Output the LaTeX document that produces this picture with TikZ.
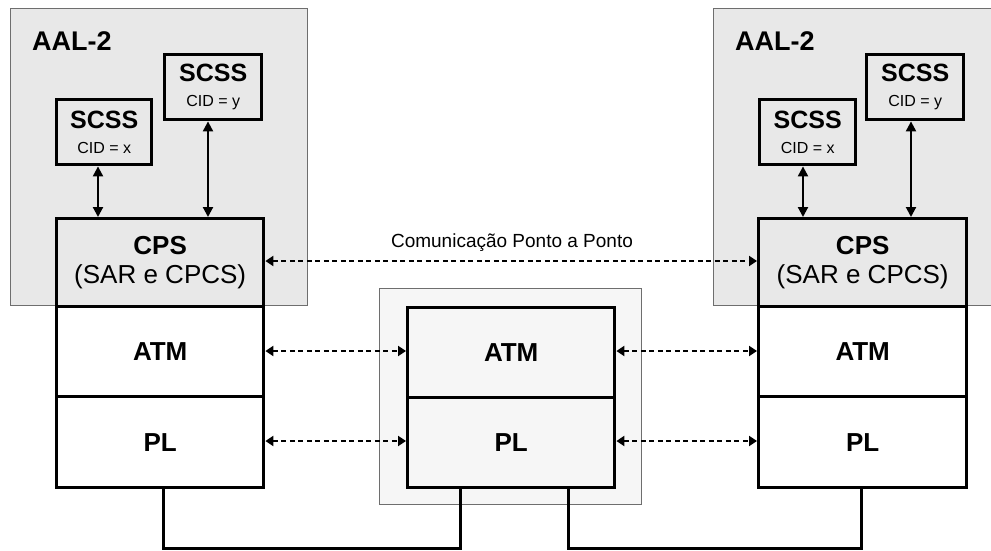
\documentclass[tikz,border=0pt]{standalone}
\usepackage{fontspec}
\setmainfont{Liberation Sans}
\usetikzlibrary{arrows.meta}
\definecolor{grayfill}{HTML}{E8E8E8}
\definecolor{midfill}{HTML}{F6F6F6}
\definecolor{grayedge}{HTML}{6E6E6E}
\tikzset{
  groupbox/.style={draw=grayedge, line width=1pt, fill=grayfill},
  midbox/.style={draw=grayedge, line width=1pt, fill=midfill},
  layer/.style={draw=black, line width=3.4pt, line join=miter, inner sep=0pt, font=\bfseries\fontsize{26}{29}\selectfont},
  scss/.style={draw=black, line width=3.4pt, inner sep=0pt, align=center, font=\fontsize{16}{25}\selectfont},
  biarrow/.style={line width=2.1pt, {Triangle[length=10pt,width=10pt]}-{Triangle[length=10pt,width=10pt]}},
  dasharrow/.style={line width=2.1pt, dash pattern=on 5pt off 3.5pt, {Triangle[length=8pt,width=10pt]}-{Triangle[length=8pt,width=10pt]}},
  wire/.style={line width=3pt},
  titletext/.style={font=\bfseries\fontsize{27}{30}\selectfont, inner sep=0pt, anchor=west},
}
\newcommand{\scsscontent}[1]{{\bfseries\fontsize{25}{25}\selectfont SCSS}\\CID = #1}
\begin{document}
\begin{tikzpicture}[x=1pt,y=-1pt]
\useasboundingbox (0,0) rectangle (991,550);
% group boxes
\node[groupbox, minimum width=297pt, minimum height=297pt, anchor=north west, inner sep=0pt] (gL) at (10,8) {};
\node[groupbox, minimum width=278pt, minimum height=297pt, anchor=north west, inner sep=0pt] (gR) at (713,8) {};
\node[midbox, minimum width=262pt, minimum height=216pt, anchor=north west, inner sep=0pt] (gM) at (379,288) {};
\node[titletext] (tL) at (32,41) {AAL-2};
\node[titletext] (tR) at (735,41) {AAL-2};

% left stack
\node[layer, fill=grayfill, minimum width=207pt, minimum height=88pt, anchor=north west, align=center, font=\fontsize{26}{29}\selectfont] (cpsL) at (55,217) {{\bfseries CPS}\\(SAR e CPCS)};
\node[layer, fill=white, minimum width=207pt, minimum height=90pt, anchor=north west] (atmL) at (55,305) {ATM};
\node[layer, fill=white, minimum width=207pt, minimum height=91pt, anchor=north west] (plL) at (55,395) {PL};

% right stack
\node[layer, fill=grayfill, minimum width=208pt, minimum height=88pt, anchor=north west, align=center, font=\fontsize{26}{29}\selectfont] (cpsR) at (757,217) {{\bfseries CPS}\\(SAR e CPCS)};
\node[layer, fill=white, minimum width=208pt, minimum height=90pt, anchor=north west] (atmR) at (757,305) {ATM};
\node[layer, fill=white, minimum width=208pt, minimum height=91pt, anchor=north west] (plR) at (757,395) {PL};

% middle stack
\node[layer, fill=midfill, minimum width=207pt, minimum height=90pt, anchor=north west] (atmM) at (406,306) {ATM};
\node[layer, fill=midfill, minimum width=207pt, minimum height=90pt, anchor=north west] (plM) at (406,396) {PL};

% SCSS boxes
\node[scss, fill=grayfill, minimum width=95pt, minimum height=65pt, anchor=north west] (sxL) at (55,98) {\scsscontent{x}};
\node[scss, fill=grayfill, minimum width=97pt, minimum height=65pt, anchor=north west] (syL) at (163,53) {\scsscontent{y}};
\node[scss, fill=grayfill, minimum width=96pt, minimum height=65pt, anchor=north west] (sxR) at (758,98) {\scsscontent{x}};
\node[scss, fill=grayfill, minimum width=97pt, minimum height=65pt, anchor=north west] (syR) at (865,53) {\scsscontent{y}};

% vertical arrows
\draw[biarrow] (sxL.south -| 98,0) -- (cpsL.north -| 98,0);
\draw[biarrow] (syL.south -| 208,0) -- (cpsL.north -| 208,0);
\draw[biarrow] (sxR.south -| 803,0) -- (cpsR.north -| 803,0);
\draw[biarrow] (syR.south -| 911,0) -- (cpsR.north -| 911,0);

% dashed peer arrows
\draw[dasharrow] (cpsL.east |- 0,261) -- (cpsR.west |- 0,261);
\node[font=\fontsize{19}{22}\selectfont, inner sep=0pt] (lbl) at (512,243) {Comunicação Ponto a Ponto};
\draw[dasharrow] (atmL.east |- 0,351) -- (atmM.west |- 0,351);
\draw[dasharrow] (atmM.east |- 0,351) -- (atmR.west |- 0,351);
\draw[dasharrow] (plL.east |- 0,441) -- (plM.west |- 0,441);
\draw[dasharrow] (plM.east |- 0,441) -- (plR.west |- 0,441);

% wires
\coordinate (wL) at (163,548);
\coordinate (wR) at (861,548);
\draw[wire] (plL.south -| 163,0) -- (wL) -- (460,548) -- (plM.south -| 460,0);
\draw[wire] (plM.south -| 568,0) -- (568,548) -- (wR) -- (plR.south -| 861,0);
\end{tikzpicture}
\end{document}
